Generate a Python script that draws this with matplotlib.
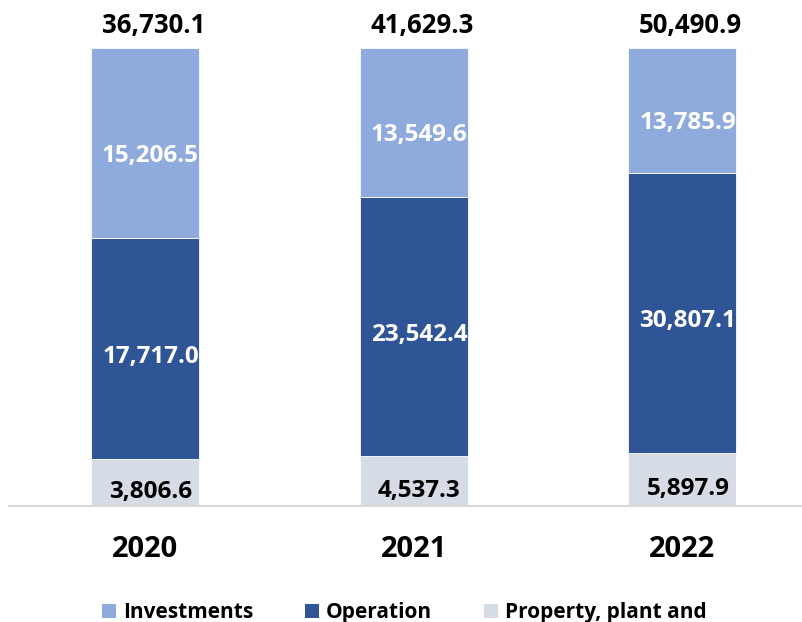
import matplotlib
matplotlib.use("Agg")
import matplotlib.pyplot as plt
from matplotlib.patches import Patch
import numpy as np

years = ["2020", "2021", "2022"]
property_vals = [3806.6, 4537.3, 5897.9]
operation_vals = [17717.0, 23542.4, 30807.1]
investment_vals = [15206.5, 13549.6, 13785.9]
totals = [36730.1, 41629.3, 50490.9]
legend_labels = ["Investments", "Operation", "Property, plant and"]

c_inv = "#8FAADC"
c_op = "#2F5597"
c_prop = "#D6DCE5"

plt.rcParams['font.family'] = ['Open Sans', 'DejaVu Sans']
plt.rcParams['font.weight'] = 'bold'

fig = plt.figure(figsize=(8.03, 6.22), dpi=100)
ax = fig.add_axes([9/803, (622-506)/622, 793/803, (506-48)/622])

x = np.arange(len(years))
tot = np.array(property_vals) + np.array(operation_vals) + np.array(investment_vals)
p = np.array(property_vals) / tot
o = np.array(operation_vals) / tot
i = np.array(investment_vals) / tot
w = 0.402
ax.bar(x, p, w, color=c_prop, edgecolor="white", linewidth=0.6)
ax.bar(x, o, w, bottom=p, color=c_op, edgecolor="white", linewidth=0.6)
ax.bar(x, i, w, bottom=p + o, color=c_inv, edgecolor="white", linewidth=0.6)

fs_in = 17.5
dx = 4
for k in range(len(years)):
    ax.annotate(f"{property_vals[k]:,.1f}", (x[k], p[k] / 2), xytext=(dx, -5),
                textcoords="offset points", ha="center", va="center_baseline",
                fontsize=fs_in, fontweight="bold", color="black")
    ax.annotate(f"{operation_vals[k]:,.1f}", (x[k], p[k] + o[k] / 2), xytext=(dx, -4),
                textcoords="offset points", ha="center", va="center_baseline",
                fontsize=fs_in, fontweight="bold", color="white")
    ax.annotate(f"{investment_vals[k]:,.1f}", (x[k], p[k] + o[k] + i[k] / 2), xytext=(dx, -7),
                textcoords="offset points", ha="center", va="center_baseline",
                fontsize=fs_in, fontweight="bold", color="white")
    ax.annotate(f"{totals[k]:,.1f}", (x[k], 1.0), xytext=(6, 18),
                textcoords="offset points", ha="center", va="center_baseline",
                fontsize=18.5, fontweight="bold", color="black")

ax.set_xlim(-0.506, 2.445)
ax.set_ylim(0, 1)
ax.set_xticks(x)
ax.set_xticklabels(years, fontsize=21, fontweight="bold")
ax.tick_params(axis="x", length=0, pad=21)
ax.set_yticks([])
for s in ["top", "right", "left"]:
    ax.spines[s].set_visible(False)
ax.spines["bottom"].set_color("#D9D9D9")
ax.spines["bottom"].set_linewidth(1.5)

handles = [Patch(facecolor=c_inv), Patch(facecolor=c_op), Patch(facecolor=c_prop)]
leg = fig.legend(handles, legend_labels, loc="upper left", bbox_to_anchor=(102/803, 1 - 602/622),
                 ncol=3, frameon=False, fontsize=15, handlelength=0.65, handleheight=0.65,
                 handletextpad=0.35, columnspacing=2.5, borderaxespad=0, borderpad=0)
for t in leg.get_texts():
    t.set_fontweight("bold")

fig.savefig("out.png", dpi=100)
